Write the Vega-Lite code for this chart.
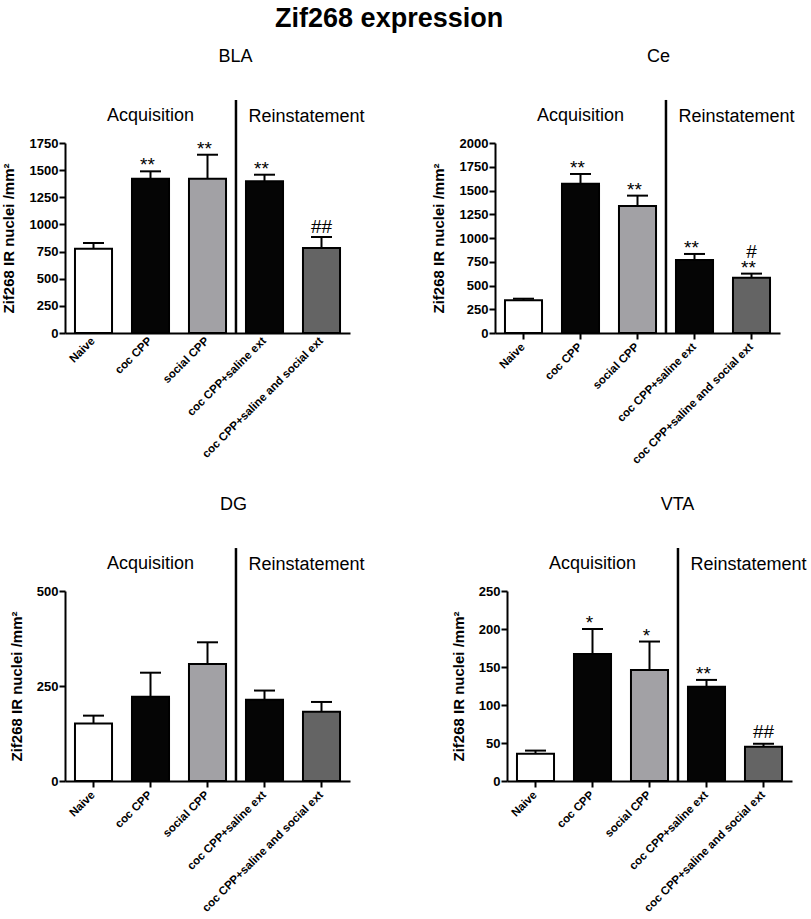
{
  "$schema": "https://vega.github.io/schema/vega-lite/v6.json",
  "autosize": "none",
  "padding": {"left": 65, "top": 143, "right": 746, "bottom": 776},
  "background": "white",
  "title": {"text": "Zif268 expression", "fontSize": 27, "fontWeight": "bold", "font": "Liberation Sans", "color": "black", "anchor": "start", "dx": 274, "offset": 15},
  "config": {
    "font": "Liberation Sans",
    "view": {"stroke": null},
    "title": {"font": "Liberation Sans", "fontSize": 18, "fontWeight": "normal", "color": "black", "anchor": "middle"},
    "axis": {"grid": false, "domainColor": "black", "domainWidth": 2, "tickColor": "black", "tickWidth": 2, "tickSize": 6, "labelColor": "black", "titleColor": "black", "labelFont": "Liberation Sans", "titleFont": "Liberation Sans"},
    "axisX": {"labelFontSize": 11.5, "labelFontWeight": "bold", "labelAngle": -45, "labelAlign": "right", "labelBaseline": "middle", "labelLimit": 300, "labelOverlap": false, "labelPadding": 6, "title": null},
    "axisY": {"labelFontSize": 13, "labelFontWeight": "bold", "titleFontSize": 15, "titleFontWeight": "bold", "labelPadding": 1, "labelOverlap": false, "format": "d", "title": "Zif268 IR nuclei /mm²", "titlePadding": 13}
  },
  "bounds": "flush",
  "spacing": 448,
  "vconcat": [
    {
      "bounds": "flush",
      "spacing": 145,
      "hconcat": [
        {
          "width": 285, "height": 190,
          "title": {"text": "BLA", "dx": 28, "offset": 33},
          "data": {"values": [
            {"group": "Naive", "mean": 777, "upper": 829},
            {"group": "coc CPP", "mean": 1421, "upper": 1489, "stars": "**"},
            {"group": "social CPP", "mean": 1421, "upper": 1642, "stars": "**"},
            {"group": "coc CPP+saline ext", "mean": 1397, "upper": 1458, "stars": "**"},
            {"group": "coc CPP+saline and social ext", "mean": 783, "upper": 884, "hash": "##", "hash_y": 921}
          ]},
          "encoding": {"x": {"field": "group", "type": "nominal", "sort": null, "scale": {"domain": ["Naive", "coc CPP", "social CPP", "coc CPP+saline ext", "coc CPP+saline and social ext"], "paddingInner": 0.35, "paddingOuter": 0.175}, "axis": {"ticks": false}}},
          "layer": [
            {"mark": {"type": "rule", "strokeWidth": 2, "color": "black"}, "encoding": {"y": {"field": "mean", "type": "quantitative", "scale": {"domain": [0, 1750], "nice": false}, "axis": {"title": "Zif268 IR nuclei /mm²", "titlePadding": 13, "values": [0, 250, 500, 750, 1000, 1250, 1500, 1750]}}, "y2": {"field": "upper"}}},
            {"mark": {"type": "tick", "size": 21, "thickness": 2, "color": "black", "orient": "horizontal", "opacity": 1}, "encoding": {"y": {"field": "upper", "type": "quantitative", "scale": {"domain": [0, 1750], "nice": false}, "axis": {"title": "Zif268 IR nuclei /mm²", "titlePadding": 13, "values": [0, 250, 500, 750, 1000, 1250, 1500, 1750]}}}},
            {"mark": {"type": "bar", "stroke": "black", "strokeWidth": 2}, "encoding": {"y": {"field": "mean", "type": "quantitative", "scale": {"domain": [0, 1750], "nice": false}, "axis": {"title": "Zif268 IR nuclei /mm²", "titlePadding": 13, "values": [0, 250, 500, 750, 1000, 1250, 1500, 1750]}}, "color": {"field": "group", "type": "nominal", "legend": null, "scale": {"domain": ["Naive", "coc CPP", "social CPP", "coc CPP+saline ext", "coc CPP+saline and social ext"], "range": ["#ffffff", "#050505", "#a2a1a5", "#050505", "#646464"]}}}},
            {"transform": [{"filter": "datum.stars"}], "mark": {"type": "text", "fontSize": 19, "dx": -3, "baseline": "alphabetic", "color": "black"}, "encoding": {"y": {"field": "upper", "type": "quantitative", "scale": {"domain": [0, 1750], "nice": false}, "axis": {"title": "Zif268 IR nuclei /mm²", "titlePadding": 13, "values": [0, 250, 500, 750, 1000, 1250, 1500, 1750]}}, "text": {"field": "stars"}}},
            {"transform": [{"filter": "datum.hash"}], "mark": {"type": "text", "fontSize": 19, "baseline": "alphabetic", "color": "black"}, "encoding": {"y": {"field": "hash_y", "type": "quantitative", "scale": {"domain": [0, 1750], "nice": false}, "axis": {"title": "Zif268 IR nuclei /mm²", "titlePadding": 13, "values": [0, 250, 500, 750, 1000, 1250, 1500, 1750]}}, "text": {"field": "hash"}}},
            {"data": {"values": [{"group": "coc CPP+saline ext", "from": 0, "to": 2146}]}, "mark": {"type": "rule", "strokeWidth": 2.5, "color": "black", "xOffset": -10}, "encoding": {"x": {"field": "group", "type": "nominal", "bandPosition": 0, "sort": null}, "y": {"field": "from", "type": "quantitative", "scale": {"domain": [0, 1750], "nice": false}, "axis": {"title": "Zif268 IR nuclei /mm²", "titlePadding": 13, "values": [0, 250, 500, 750, 1000, 1250, 1500, 1750]}}, "y2": {"field": "to"}}},
            {"data": {"values": [{"group": "coc CPP", "label": "Acquisition", "y": 1999}]}, "mark": {"type": "text", "fontSize": 18, "color": "black"}, "encoding": {"y": {"field": "y", "type": "quantitative", "scale": {"domain": [0, 1750], "nice": false}, "axis": {"title": "Zif268 IR nuclei /mm²", "titlePadding": 13, "values": [0, 250, 500, 750, 1000, 1250, 1500, 1750]}}, "text": {"field": "label"}}},
            {"data": {"values": [{"group": "coc CPP+saline and social ext", "label": "Reinstatement", "y": 1990}]}, "mark": {"type": "text", "fontSize": 18, "color": "black", "dx": -15}, "encoding": {"y": {"field": "y", "type": "quantitative", "scale": {"domain": [0, 1750], "nice": false}, "axis": {"title": "Zif268 IR nuclei /mm²", "titlePadding": 13, "values": [0, 250, 500, 750, 1000, 1250, 1500, 1750]}}, "text": {"field": "label"}}}
          ]
        },
        {
          "width": 285, "height": 190,
          "title": {"text": "Ce", "dx": 21, "offset": 33},
          "data": {"values": [
            {"group": "Naive", "mean": 344, "upper": 361},
            {"group": "coc CPP", "mean": 1572, "upper": 1674, "stars": "**"},
            {"group": "social CPP", "mean": 1337, "upper": 1446, "stars": "**"},
            {"group": "coc CPP+saline ext", "mean": 768, "upper": 832, "stars": "**"},
            {"group": "coc CPP+saline and social ext", "mean": 582, "upper": 625, "stars": "**", "hash": "#", "hash_y": 789}
          ]},
          "encoding": {"x": {"field": "group", "type": "nominal", "sort": null, "scale": {"domain": ["Naive", "coc CPP", "social CPP", "coc CPP+saline ext", "coc CPP+saline and social ext"], "paddingInner": 0.35, "paddingOuter": 0.175}}},
          "layer": [
            {"mark": {"type": "rule", "strokeWidth": 2, "color": "black"}, "encoding": {"y": {"field": "mean", "type": "quantitative", "scale": {"domain": [0, 2000], "nice": false}, "axis": {"title": "Zif268 IR nuclei /mm²", "titlePadding": 13, "values": [0, 250, 500, 750, 1000, 1250, 1500, 1750, 2000]}}, "y2": {"field": "upper"}}},
            {"mark": {"type": "tick", "size": 21, "thickness": 2, "color": "black", "orient": "horizontal", "opacity": 1}, "encoding": {"y": {"field": "upper", "type": "quantitative", "scale": {"domain": [0, 2000], "nice": false}, "axis": {"title": "Zif268 IR nuclei /mm²", "titlePadding": 13, "values": [0, 250, 500, 750, 1000, 1250, 1500, 1750, 2000]}}}},
            {"mark": {"type": "bar", "stroke": "black", "strokeWidth": 2}, "encoding": {"y": {"field": "mean", "type": "quantitative", "scale": {"domain": [0, 2000], "nice": false}, "axis": {"title": "Zif268 IR nuclei /mm²", "titlePadding": 13, "values": [0, 250, 500, 750, 1000, 1250, 1500, 1750, 2000]}}, "color": {"field": "group", "type": "nominal", "legend": null, "scale": {"domain": ["Naive", "coc CPP", "social CPP", "coc CPP+saline ext", "coc CPP+saline and social ext"], "range": ["#ffffff", "#050505", "#a2a1a5", "#050505", "#646464"]}}}},
            {"transform": [{"filter": "datum.stars"}], "mark": {"type": "text", "fontSize": 19, "dx": -3, "baseline": "alphabetic", "color": "black"}, "encoding": {"y": {"field": "upper", "type": "quantitative", "scale": {"domain": [0, 2000], "nice": false}, "axis": {"title": "Zif268 IR nuclei /mm²", "titlePadding": 13, "values": [0, 250, 500, 750, 1000, 1250, 1500, 1750, 2000]}}, "text": {"field": "stars"}}},
            {"transform": [{"filter": "datum.hash"}], "mark": {"type": "text", "fontSize": 19, "baseline": "alphabetic", "color": "black"}, "encoding": {"y": {"field": "hash_y", "type": "quantitative", "scale": {"domain": [0, 2000], "nice": false}, "axis": {"title": "Zif268 IR nuclei /mm²", "titlePadding": 13, "values": [0, 250, 500, 750, 1000, 1250, 1500, 1750, 2000]}}, "text": {"field": "hash"}}},
            {"data": {"values": [{"group": "coc CPP+saline ext", "from": 0, "to": 2453}]}, "mark": {"type": "rule", "strokeWidth": 2.5, "color": "black", "xOffset": -10}, "encoding": {"x": {"field": "group", "type": "nominal", "bandPosition": 0, "sort": null}, "y": {"field": "from", "type": "quantitative", "scale": {"domain": [0, 2000], "nice": false}, "axis": {"title": "Zif268 IR nuclei /mm²", "titlePadding": 13, "values": [0, 250, 500, 750, 1000, 1250, 1500, 1750, 2000]}}, "y2": {"field": "to"}}},
            {"data": {"values": [{"group": "coc CPP", "label": "Acquisition", "y": 2284}]}, "mark": {"type": "text", "fontSize": 18, "color": "black"}, "encoding": {"y": {"field": "y", "type": "quantitative", "scale": {"domain": [0, 2000], "nice": false}, "axis": {"title": "Zif268 IR nuclei /mm²", "titlePadding": 13, "values": [0, 250, 500, 750, 1000, 1250, 1500, 1750, 2000]}}, "text": {"field": "label"}}},
            {"data": {"values": [{"group": "coc CPP+saline and social ext", "label": "Reinstatement", "y": 2274}]}, "mark": {"type": "text", "fontSize": 18, "color": "black", "dx": -15}, "encoding": {"y": {"field": "y", "type": "quantitative", "scale": {"domain": [0, 2000], "nice": false}, "axis": {"title": "Zif268 IR nuclei /mm²", "titlePadding": 13, "values": [0, 250, 500, 750, 1000, 1250, 1500, 1750, 2000]}}, "text": {"field": "label"}}}
          ]
        }
      ]
    },
    {
      "bounds": "flush",
      "spacing": 157,
      "hconcat": [
        {
          "width": 285, "height": 190,
          "title": {"text": "DG", "dx": 26, "offset": 33},
          "data": {"values": [
            {"group": "Naive", "mean": 151, "upper": 172},
            {"group": "coc CPP", "mean": 222, "upper": 285},
            {"group": "social CPP", "mean": 308, "upper": 365},
            {"group": "coc CPP+saline ext", "mean": 214, "upper": 238},
            {"group": "coc CPP+saline and social ext", "mean": 182, "upper": 208}
          ]},
          "encoding": {"x": {"field": "group", "type": "nominal", "sort": null, "scale": {"domain": ["Naive", "coc CPP", "social CPP", "coc CPP+saline ext", "coc CPP+saline and social ext"], "paddingInner": 0.35, "paddingOuter": 0.175}}},
          "layer": [
            {"mark": {"type": "rule", "strokeWidth": 2, "color": "black"}, "encoding": {"y": {"field": "mean", "type": "quantitative", "scale": {"domain": [0, 500], "nice": false}, "axis": {"title": "Zif268 IR nuclei /mm²", "titlePadding": 12, "values": [0, 250, 500]}}, "y2": {"field": "upper"}}},
            {"mark": {"type": "tick", "size": 21, "thickness": 2, "color": "black", "orient": "horizontal", "opacity": 1}, "encoding": {"y": {"field": "upper", "type": "quantitative", "scale": {"domain": [0, 500], "nice": false}, "axis": {"title": "Zif268 IR nuclei /mm²", "titlePadding": 12, "values": [0, 250, 500]}}}},
            {"mark": {"type": "bar", "stroke": "black", "strokeWidth": 2}, "encoding": {"y": {"field": "mean", "type": "quantitative", "scale": {"domain": [0, 500], "nice": false}, "axis": {"title": "Zif268 IR nuclei /mm²", "titlePadding": 12, "values": [0, 250, 500]}}, "color": {"field": "group", "type": "nominal", "legend": null, "scale": {"domain": ["Naive", "coc CPP", "social CPP", "coc CPP+saline ext", "coc CPP+saline and social ext"], "range": ["#ffffff", "#050505", "#a2a1a5", "#050505", "#646464"]}}}},
            {"data": {"values": [{"group": "coc CPP+saline ext", "from": 0, "to": 613}]}, "mark": {"type": "rule", "strokeWidth": 2.5, "color": "black", "xOffset": -10}, "encoding": {"x": {"field": "group", "type": "nominal", "bandPosition": 0, "sort": null}, "y": {"field": "from", "type": "quantitative", "scale": {"domain": [0, 500], "nice": false}, "axis": {"title": "Zif268 IR nuclei /mm²", "titlePadding": 12, "values": [0, 250, 500]}}, "y2": {"field": "to"}}},
            {"data": {"values": [{"group": "coc CPP", "label": "Acquisition", "y": 571}]}, "mark": {"type": "text", "fontSize": 18, "color": "black"}, "encoding": {"y": {"field": "y", "type": "quantitative", "scale": {"domain": [0, 500], "nice": false}, "axis": {"title": "Zif268 IR nuclei /mm²", "titlePadding": 12, "values": [0, 250, 500]}}, "text": {"field": "label"}}},
            {"data": {"values": [{"group": "coc CPP+saline and social ext", "label": "Reinstatement", "y": 568}]}, "mark": {"type": "text", "fontSize": 18, "color": "black", "dx": -15}, "encoding": {"y": {"field": "y", "type": "quantitative", "scale": {"domain": [0, 500], "nice": false}, "axis": {"title": "Zif268 IR nuclei /mm²", "titlePadding": 12, "values": [0, 250, 500]}}, "text": {"field": "label"}}}
          ]
        },
        {
          "width": 285, "height": 190,
          "title": {"text": "VTA", "dx": 28, "offset": 33},
          "data": {"values": [
            {"group": "Naive", "mean": 36, "upper": 40},
            {"group": "coc CPP", "mean": 167, "upper": 200, "stars": "*"},
            {"group": "social CPP", "mean": 146, "upper": 183.5, "stars": "*"},
            {"group": "coc CPP+saline ext", "mean": 124, "upper": 133, "stars": "**"},
            {"group": "coc CPP+saline and social ext", "mean": 45, "upper": 49, "hash": "##", "hash_y": 56}
          ]},
          "encoding": {"x": {"field": "group", "type": "nominal", "sort": null, "scale": {"domain": ["Naive", "coc CPP", "social CPP", "coc CPP+saline ext", "coc CPP+saline and social ext"], "paddingInner": 0.35, "paddingOuter": 0.175}}},
          "layer": [
            {"mark": {"type": "rule", "strokeWidth": 2, "color": "black"}, "encoding": {"y": {"field": "mean", "type": "quantitative", "scale": {"domain": [0, 250], "nice": false}, "axis": {"title": "Zif268 IR nuclei /mm²", "titlePadding": 12, "values": [0, 50, 100, 150, 200, 250]}}, "y2": {"field": "upper"}}},
            {"mark": {"type": "tick", "size": 21, "thickness": 2, "color": "black", "orient": "horizontal", "opacity": 1}, "encoding": {"y": {"field": "upper", "type": "quantitative", "scale": {"domain": [0, 250], "nice": false}, "axis": {"title": "Zif268 IR nuclei /mm²", "titlePadding": 12, "values": [0, 50, 100, 150, 200, 250]}}}},
            {"mark": {"type": "bar", "stroke": "black", "strokeWidth": 2}, "encoding": {"y": {"field": "mean", "type": "quantitative", "scale": {"domain": [0, 250], "nice": false}, "axis": {"title": "Zif268 IR nuclei /mm²", "titlePadding": 12, "values": [0, 50, 100, 150, 200, 250]}}, "color": {"field": "group", "type": "nominal", "legend": null, "scale": {"domain": ["Naive", "coc CPP", "social CPP", "coc CPP+saline ext", "coc CPP+saline and social ext"], "range": ["#ffffff", "#050505", "#a2a1a5", "#050505", "#646464"]}}}},
            {"transform": [{"filter": "datum.stars"}], "mark": {"type": "text", "fontSize": 19, "dx": -3, "baseline": "alphabetic", "color": "black"}, "encoding": {"y": {"field": "upper", "type": "quantitative", "scale": {"domain": [0, 250], "nice": false}, "axis": {"title": "Zif268 IR nuclei /mm²", "titlePadding": 12, "values": [0, 50, 100, 150, 200, 250]}}, "text": {"field": "stars"}}},
            {"transform": [{"filter": "datum.hash"}], "mark": {"type": "text", "fontSize": 19, "baseline": "alphabetic", "color": "black"}, "encoding": {"y": {"field": "hash_y", "type": "quantitative", "scale": {"domain": [0, 250], "nice": false}, "axis": {"title": "Zif268 IR nuclei /mm²", "titlePadding": 12, "values": [0, 50, 100, 150, 200, 250]}}, "text": {"field": "hash"}}},
            {"data": {"values": [{"group": "coc CPP+saline ext", "from": 0, "to": 306.6}]}, "mark": {"type": "rule", "strokeWidth": 2.5, "color": "black", "xOffset": -10}, "encoding": {"x": {"field": "group", "type": "nominal", "bandPosition": 0, "sort": null}, "y": {"field": "from", "type": "quantitative", "scale": {"domain": [0, 250], "nice": false}, "axis": {"title": "Zif268 IR nuclei /mm²", "titlePadding": 12, "values": [0, 50, 100, 150, 200, 250]}}, "y2": {"field": "to"}}},
            {"data": {"values": [{"group": "coc CPP", "label": "Acquisition", "y": 285.5}]}, "mark": {"type": "text", "fontSize": 18, "color": "black"}, "encoding": {"y": {"field": "y", "type": "quantitative", "scale": {"domain": [0, 250], "nice": false}, "axis": {"title": "Zif268 IR nuclei /mm²", "titlePadding": 12, "values": [0, 50, 100, 150, 200, 250]}}, "text": {"field": "label"}}},
            {"data": {"values": [{"group": "coc CPP+saline and social ext", "label": "Reinstatement", "y": 284}]}, "mark": {"type": "text", "fontSize": 18, "color": "black", "dx": -15}, "encoding": {"y": {"field": "y", "type": "quantitative", "scale": {"domain": [0, 250], "nice": false}, "axis": {"title": "Zif268 IR nuclei /mm²", "titlePadding": 12, "values": [0, 50, 100, 150, 200, 250]}}, "text": {"field": "label"}}}
          ]
        }
      ]
    }
  ]
}
